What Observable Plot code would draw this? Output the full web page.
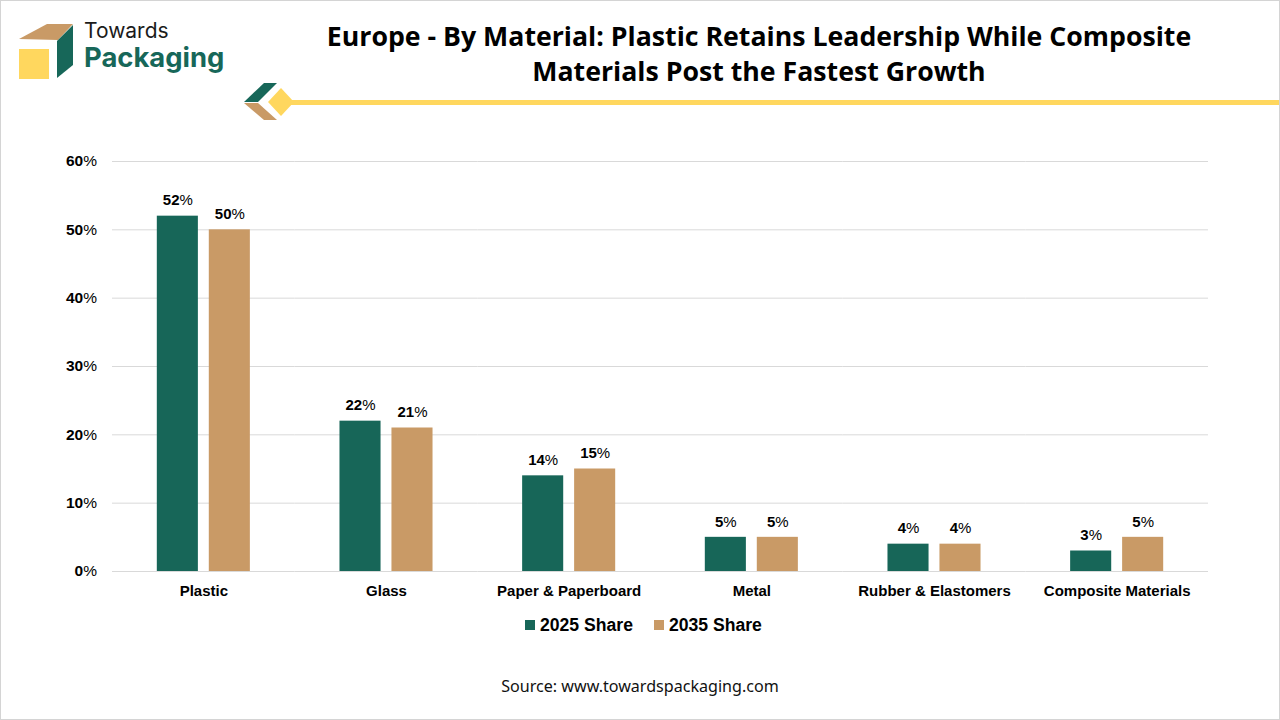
<!DOCTYPE html>
<html>
<head>
<meta charset="utf-8">
<script src="https://cdn.jsdelivr.net/npm/d3@7"></script>
<script src="https://cdn.jsdelivr.net/npm/@observablehq/plot@0.6"></script>
<style>
html,body{margin:0;padding:0;background:#fff;}
#page{position:relative;width:1280px;height:720px;overflow:hidden;background:#fff;}
#frame{position:absolute;left:0;top:0;width:1280px;height:720px;box-sizing:border-box;border:1px solid #d4d4d4;pointer-events:none;}
#title{position:absolute;left:259px;top:18px;width:1000px;text-align:center;font:700 26.7px/35px "Open Sans",sans-serif;color:#000;}
#deco{position:absolute;left:0;top:0;}
#logoT{position:absolute;left:84px;top:21px;font:400 21px/20px Inter,sans-serif;color:#1b1b1b;}
#logoP{position:absolute;left:84px;top:42px;font:700 27.4px/30px Inter,sans-serif;color:#176759;}
#chart{position:absolute;left:0;top:139px;}
#legend{position:absolute;left:525px;top:614px;display:flex;gap:21px;font:700 17.6px/22px "Liberation Sans",sans-serif;color:#000;white-space:nowrap;}
#legend span.i{display:flex;align-items:center;gap:5px;}
#legend i{display:block;width:10px;height:10px;}
#source{position:absolute;left:0;width:1280px;top:675px;text-align:center;font:400 16.1px/22px "Noto Sans",sans-serif;color:#111;}
</style>
</head>
<body>
<div id="page">
<svg id="deco" width="1280" height="130">
  <rect x="290" y="100" width="990" height="5" fill="#FFD75E"/>
  <polygon points="244,102 264,83 277,83 258,102" fill="#176759"/>
  <polygon points="244,103 258,103 277,120 264,120" fill="#C99A66"/>
  <polygon points="268,102 281,88 294,102 281,116" fill="#FFD75E"/>
  <polygon points="19,39 47,24 73,24 58,40" fill="#C99A66"/>
  <polygon points="57,41 73,25 73,65 57,78" fill="#176759"/>
  <rect x="19" y="49" width="30" height="30" fill="#FFD75E"/>
</svg>
<div id="logoT">Towards</div>
<div id="logoP">Packaging</div>
<div id="title">Europe - By Material: Plastic Retains Leadership While Composite<br>Materials Post the Fastest Growth</div>
<div id="chart"></div>
<div id="legend"></div>
<div id="source">Source: www.towardspackaging.com</div>
<div id="frame"></div>
</div>
<script>
const categories = ["Plastic","Glass","Paper & Paperboard","Metal","Rubber & Elastomers","Composite Materials"];
const seriesNames = ["2025 Share","2035 Share"];
const share2025 = [52,22,14,5,4,3];
const share2035 = [50,21,15,5,4,5];
const seriesColors = ["#176658","#C99A66"];
const yTicks = [0,10,20,30,40,50,60];

const rows = categories.flatMap((c,i)=>[
  {category:c, series:seriesNames[0], value:share2025[i]},
  {category:c, series:seriesNames[1], value:share2035[i]}
]);

const plot = Plot.plot({
  width:1280, height:450,
  marginLeft:112, marginRight:72, marginTop:22, marginBottom:18,
  style:{fontFamily:"'Liberation Sans',sans-serif", background:"transparent", overflow:"visible"},
  fx:{domain:categories, padding:0, round:false, label:null, axis:null},
  x:{domain:seriesNames, paddingInner:0.21, paddingOuter:0.862, round:false, axis:null, label:null},
  y:{domain:[0,60], ticks:yTicks, label:null, axis:null},
  color:{domain:seriesNames, range:seriesColors},
  marks:[
    Plot.ruleY(yTicks,{stroke:"#d9d9d9", strokeWidth:1}),
    Plot.barY(rows,{fx:"category", x:"series", y:"value", fill:"series"}),
    Plot.text(rows,{fx:"category", x:"series", y:"value", text:d=>d.value+"%", dy:-15.5, fontSize:15, fontWeight:700, fill:"#000"}),
    Plot.axisY({ticks:yTicks, tickSize:0, tickPadding:15.5, tickFormat:d=>d+"%", fontSize:15.5, fontWeight:700, fill:"#000", label:null}),
    Plot.axisFx({domain:categories, tickSize:0, tickPadding:14, fontSize:15, fontWeight:700, fill:"#000", label:null, anchor:"bottom", style:{letterSpacing:"0.25px"}})
  ]
});
document.getElementById("chart").appendChild(plot);

// the percent sign is lighter than the number in the reference
d3.select(plot).selectAll("text").each(function(){
  const t=this.textContent;
  if(/^\d+%$/.test(t)){
    const s=d3.select(this);
    const host=this.querySelector("tspan")?d3.select(this.querySelector("tspan")):s;
    host.text(null);
    host.append("tspan").attr("font-weight",700).text(t.slice(0,-1));
    host.append("tspan").attr("font-weight",400).text("%");
  }
});

const legend=d3.select("#legend");
seriesNames.forEach((n,i)=>{
  const it=legend.append("span").attr("class","i");
  it.append("i").style("background",seriesColors[i]);
  it.append("span").text(n);
});
</script>
</body>
</html>
